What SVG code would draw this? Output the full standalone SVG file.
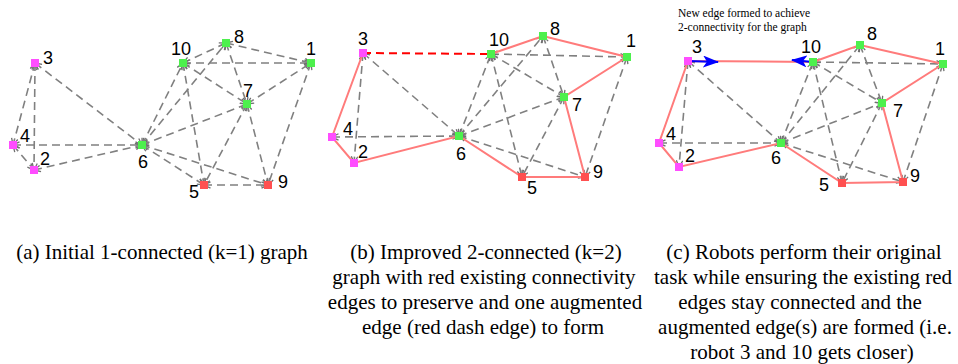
<svg xmlns="http://www.w3.org/2000/svg" width="958" height="364" viewBox="0 0 958 364">
<style>
.g{stroke:#808080;stroke-width:1.6;stroke-dasharray:8,5;fill:none;marker-start:url(#va);marker-end:url(#va)}
.r{stroke:#ff7b7b;stroke-width:2;fill:none}
.rd{stroke:#ff0000;stroke-width:2;stroke-dasharray:8,5;fill:none}
.bl{stroke:#0000ff;stroke-width:2.2;fill:none}
.m rect{stroke:none}
.pk{fill:#ff4dff}
.gr{fill:#4df04d}
.rr{fill:#ff5050}
.lb{font-family:"Liberation Sans",Arial,sans-serif;font-size:18px;fill:#000}
.cap{font-family:"Liberation Serif","Times New Roman",serif;font-size:21px;fill:#000;text-anchor:middle}
.note{font-family:"Liberation Serif","Times New Roman",serif;font-size:11.5px;fill:#000}
</style>
<defs>
<marker id="va" viewBox="0 0 8 8" refX="7.5" refY="4" markerWidth="8" markerHeight="8" markerUnits="userSpaceOnUse" orient="auto-start-reverse">
<path d="M1,0.8L7.5,4L1,7.2" fill="none" stroke="#707070" stroke-width="1.3"/>
</marker>
<marker id="ah" viewBox="0 0 16 12" refX="15" refY="6" markerWidth="16" markerHeight="12" markerUnits="userSpaceOnUse" orient="auto">
<path d="M0,0L16,6L0,12L4,6Z" fill="#0000ff"/>
</marker>
</defs>

<!-- Panel a -->
<g id="connectors-a">
<line class="g" x1="35" y1="63" x2="13" y2="145"/>
<line class="g" x1="35" y1="63" x2="34" y2="170"/>
<line class="g" x1="35" y1="63" x2="142" y2="145"/>
<line class="g" x1="13" y1="145" x2="34" y2="170"/>
<line class="g" x1="13" y1="145" x2="142" y2="145"/>
<line class="g" x1="34" y1="170" x2="142" y2="145"/>
<line class="g" x1="142" y1="145" x2="183" y2="63"/>
<line class="g" x1="142" y1="145" x2="226" y2="43"/>
<line class="g" x1="142" y1="145" x2="247" y2="104"/>
<line class="g" x1="142" y1="145" x2="204" y2="185"/>
<line class="g" x1="142" y1="145" x2="268" y2="185"/>
<line class="g" x1="183" y1="63" x2="226" y2="43"/>
<line class="g" x1="183" y1="63" x2="311" y2="63"/>
<line class="g" x1="183" y1="63" x2="247" y2="104"/>
<line class="g" x1="183" y1="63" x2="204" y2="185"/>
<line class="g" x1="226" y1="43" x2="311" y2="63"/>
<line class="g" x1="226" y1="43" x2="247" y2="104"/>
<line class="g" x1="247" y1="104" x2="311" y2="63"/>
<line class="g" x1="247" y1="104" x2="204" y2="185"/>
<line class="g" x1="247" y1="104" x2="268" y2="185"/>
<line class="g" x1="311" y1="63" x2="268" y2="185"/>
<line class="g" x1="204" y1="185" x2="268" y2="185"/>
</g>
<g id="a-n3" class="m"><rect class="pk" x="31" y="59" width="8" height="8"/><text class="lb" x="43" y="64">3</text></g>
<g id="a-n4" class="m"><rect class="pk" x="9" y="141" width="8" height="8"/><text class="lb" x="20" y="142">4</text></g>
<g id="a-n2" class="m"><rect class="pk" x="30" y="166" width="8" height="8"/><text class="lb" x="40" y="165">2</text></g>
<g id="a-n6" class="m"><rect class="gr" x="138" y="141" width="8" height="8"/><text class="lb" x="138" y="168">6</text></g>
<g id="a-n10" class="m"><rect class="gr" x="179" y="59" width="8" height="8"/><text class="lb" x="171" y="55">10</text></g>
<g id="a-n8" class="m"><rect class="gr" x="222" y="39" width="8" height="8"/><text class="lb" x="234" y="43">8</text></g>
<g id="a-n1" class="m"><rect class="gr" x="307" y="59" width="8" height="8"/><text class="lb" x="306" y="55">1</text></g>
<g id="a-n7" class="m"><rect class="gr" x="243" y="100" width="8" height="8"/><text class="lb" x="243" y="97">7</text></g>
<g id="a-n5" class="m"><rect class="rr" x="200" y="181" width="8" height="8"/><text class="lb" x="189" y="198">5</text></g>
<g id="a-n9" class="m"><rect class="rr" x="264" y="181" width="8" height="8"/><text class="lb" x="278" y="188">9</text></g>

<!-- Panel b -->
<g id="connectors-b">
<line class="g" x1="363" y1="53" x2="354" y2="163"/>
<line class="g" x1="363" y1="53" x2="459" y2="136"/>
<line class="g" x1="332" y1="137" x2="459" y2="136"/>
<line class="g" x1="459" y1="136" x2="491" y2="54"/>
<line class="g" x1="459" y1="136" x2="543" y2="36"/>
<line class="g" x1="459" y1="136" x2="564" y2="97"/>
<line class="g" x1="459" y1="136" x2="585" y2="177"/>
<line class="g" x1="491" y1="54" x2="627" y2="57"/>
<line class="g" x1="491" y1="54" x2="564" y2="97"/>
<line class="g" x1="491" y1="54" x2="522" y2="177"/>
<line class="g" x1="543" y1="36" x2="564" y2="97"/>
<line class="g" x1="564" y1="97" x2="522" y2="177"/>
<line class="g" x1="627" y1="57" x2="585" y2="177"/>
<line class="rd" x1="363" y1="53" x2="491" y2="54"/>
<polyline class="r" points="363,53 332,137 354,163 459,136 522,177 585,177 564,97 627,57 543,36 491,54"/>
</g>
<g id="b-n3" class="m"><rect class="pk" x="359" y="49" width="8" height="8"/><text class="lb" x="358" y="45">3</text></g>
<g id="b-n4" class="m"><rect class="pk" x="328" y="133" width="8" height="8"/><text class="lb" x="343" y="135">4</text></g>
<g id="b-n2" class="m"><rect class="pk" x="350" y="159" width="8" height="8"/><text class="lb" x="358" y="158">2</text></g>
<g id="b-n6" class="m"><rect class="gr" x="455" y="132" width="8" height="8"/><text class="lb" x="456" y="160">6</text></g>
<g id="b-n10" class="m"><rect class="gr" x="487" y="50" width="8" height="8"/><text class="lb" x="489" y="46">10</text></g>
<g id="b-n8" class="m"><rect class="gr" x="539" y="32" width="8" height="8"/><text class="lb" x="550" y="35">8</text></g>
<g id="b-n1" class="m"><rect class="gr" x="623" y="53" width="8" height="8"/><text class="lb" x="626" y="47">1</text></g>
<g id="b-n7" class="m"><rect class="gr" x="560" y="93" width="8" height="8"/><text class="lb" x="572" y="111">7</text></g>
<g id="b-n5" class="m"><rect class="rr" x="518" y="173" width="8" height="8"/><text class="lb" x="527" y="194">5</text></g>
<g id="b-n9" class="m"><rect class="rr" x="581" y="173" width="8" height="8"/><text class="lb" x="593" y="178">9</text></g>

<!-- Panel c -->
<text class="note" x="678" y="17">New edge formed to achieve</text>
<text class="note" x="678" y="31">2-connectivity for the graph</text>
<g id="connectors-c">
<line class="g" x1="688" y1="61" x2="679" y2="167"/>
<line class="g" x1="688" y1="61" x2="781" y2="143"/>
<line class="g" x1="659" y1="143" x2="781" y2="143"/>
<line class="g" x1="781" y1="143" x2="813" y2="62"/>
<line class="g" x1="781" y1="143" x2="860" y2="45"/>
<line class="g" x1="781" y1="143" x2="882" y2="103"/>
<line class="g" x1="781" y1="143" x2="903" y2="182"/>
<line class="g" x1="813" y1="62" x2="943" y2="64"/>
<line class="g" x1="813" y1="62" x2="882" y2="103"/>
<line class="g" x1="813" y1="62" x2="842" y2="183"/>
<line class="g" x1="860" y1="45" x2="882" y2="103"/>
<line class="g" x1="882" y1="103" x2="842" y2="183"/>
<line class="g" x1="943" y1="64" x2="903" y2="182"/>
<polyline class="r" points="813,62 688,61 659,143 679,167 781,143 842,183 903,182 882,103 943,64 860,45 813,62"/>
<line class="bl" x1="688" y1="61" x2="718" y2="62" marker-end="url(#ah)"/>
<line class="bl" x1="813" y1="62" x2="792" y2="60" marker-end="url(#ah)"/>
</g>
<g id="c-n3" class="m"><rect class="pk" x="684" y="57" width="8" height="8"/><text class="lb" x="692" y="53">3</text></g>
<g id="c-n4" class="m"><rect class="pk" x="655" y="139" width="8" height="8"/><text class="lb" x="666" y="140">4</text></g>
<g id="c-n2" class="m"><rect class="pk" x="675" y="163" width="8" height="8"/><text class="lb" x="685" y="162">2</text></g>
<g id="c-n6" class="m"><rect class="gr" x="777" y="139" width="8" height="8"/><text class="lb" x="771" y="164">6</text></g>
<g id="c-n10" class="m"><rect class="gr" x="809" y="58" width="8" height="8"/><text class="lb" x="801" y="53">10</text></g>
<g id="c-n8" class="m"><rect class="gr" x="856" y="41" width="8" height="8"/><text class="lb" x="867" y="40">8</text></g>
<g id="c-n1" class="m"><rect class="gr" x="939" y="60" width="8" height="8"/><text class="lb" x="935" y="55">1</text></g>
<g id="c-n7" class="m"><rect class="gr" x="878" y="99" width="8" height="8"/><text class="lb" x="893" y="117">7</text></g>
<g id="c-n5" class="m"><rect class="rr" x="838" y="179" width="8" height="8"/><text class="lb" x="819" y="191">5</text></g>
<g id="c-n9" class="m"><rect class="rr" x="899" y="178" width="8" height="8"/><text class="lb" x="910" y="182">9</text></g>

<!-- Captions -->
<text class="cap" x="162" y="259">(a) Initial 1-connected (k=1) graph</text>
<text class="cap" x="486" y="259">(b) Improved 2-connected (k=2)</text>
<text class="cap" x="484" y="284">graph with red existing connectivity</text>
<text class="cap" x="485" y="309">edges to preserve and one augmented</text>
<text class="cap" x="483" y="334">edge (red dash edge) to form</text>
<text class="cap" x="804" y="259">(c) Robots perform their original</text>
<text class="cap" x="803" y="284">task while ensuring the existing red</text>
<text class="cap" x="800" y="309">edges stay connected and the</text>
<text class="cap" x="805" y="334">augmented edge(s) are formed (i.e.</text>
<text class="cap" x="802" y="359">robot 3 and 10 gets closer)</text>
</svg>
